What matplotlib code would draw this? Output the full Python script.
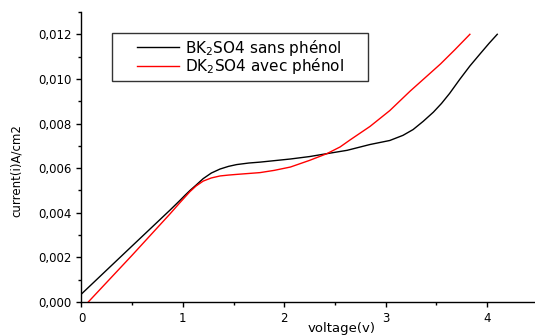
import matplotlib
matplotlib.use("Agg")
import matplotlib.pyplot as plt
from matplotlib.ticker import MultipleLocator, FuncFormatter
from matplotlib.patches import Rectangle

plt.rcParams['font.family'] = ['DejaVu Sans']
plt.rcParams['mathtext.default'] = 'regular'

# Polarisation curves: current density vs applied voltage
voltage_sans = [0.00, 0.48, 0.873, 0.97, 1.02, 1.07, 1.13, 1.20, 1.28, 1.366, 1.45, 1.53,
                1.65, 1.76, 2.06, 2.25, 2.42, 2.62, 2.845, 3.04, 3.17, 3.27, 3.37, 3.47,
                3.55, 3.63, 3.73, 3.83, 3.93, 4.02, 4.10]
current_sans = [0.00036, 0.00243, 0.00412, 0.00455, 0.00478, 0.0050, 0.00524, 0.00553,
                0.00578, 0.00596, 0.00608, 0.00616, 0.00623, 0.00627, 0.00641, 0.00652,
                0.00665, 0.0068, 0.00706, 0.00724, 0.00747, 0.00773, 0.0081, 0.00851,
                0.0089, 0.00935, 0.00998, 0.01058, 0.01112, 0.0116, 0.0120]

voltage_avec = [0.067, 0.50, 0.873, 0.97, 1.02, 1.07, 1.13, 1.20, 1.28, 1.366, 1.45, 1.53,
                1.76, 1.90, 2.06, 2.25, 2.42, 2.55, 2.65, 2.845, 3.04, 3.24, 3.40, 3.54,
                3.68, 3.83]
current_avec = [0.0, 0.0021, 0.00395, 0.00445, 0.0047, 0.00495, 0.0052, 0.00542,
                0.00556, 0.00565, 0.00569, 0.00572, 0.0058, 0.0059, 0.00605, 0.00635,
                0.00665, 0.00695, 0.00727, 0.00787, 0.00858, 0.00945, 0.0101, 0.01067,
                0.0113, 0.0120]

labels = ["BK$_2$SO4 sans phénol", "DK$_2$SO4 avec phénol"]

fig = plt.figure(figsize=(5.35, 3.35), dpi=100)
ax = fig.add_axes([0.1523, 0.0985, 0.853, 0.8657])

l1, = ax.plot(voltage_sans, current_sans, color='black', lw=1.0)
l2, = ax.plot(voltage_avec, current_avec, color='#ff0000', lw=1.0)

ax.set_xlim(0, 4.5)
ax.set_ylim(0, 0.013)

ax.spines['top'].set_visible(False)
ax.spines['right'].set_visible(False)
for s in ('left', 'bottom'):
    ax.spines[s].set_linewidth(1.0)

ax.xaxis.set_major_locator(MultipleLocator(1))
ax.xaxis.set_minor_locator(MultipleLocator(0.5))
ax.yaxis.set_major_locator(MultipleLocator(0.002))
ax.yaxis.set_minor_locator(MultipleLocator(0.001))
ax.yaxis.set_major_formatter(FuncFormatter(lambda v, p: f"{v:.3f}".replace('.', ',')))
ax.xaxis.set_major_formatter(FuncFormatter(lambda v, p: f"{v:.0f}"))

ax.tick_params(which='major', direction='out', length=3.6, width=1.0, labelsize=8.5, pad=3.5)
ax.tick_params(which='minor', direction='out', length=2.2, width=1.0)

ax.set_xlabel("voltage(v)", fontsize=9.5)
ax.set_ylabel("current(i)A/cm2", fontsize=8.5)
ax.xaxis.set_label_coords(0.571, -0.068)
ax.yaxis.set_label_coords(-0.128, 0.453)

# Legend with a wide frame around it
frame = Rectangle((0.0675, 0.762), 0.5605, 0.166, transform=ax.transAxes,
                  facecolor='white', edgecolor='#333333', lw=1.0, zorder=3)
ax.add_patch(frame)
leg = ax.legend([l1, l2], labels, loc='center', bbox_to_anchor=(0.348, 0.845),
                frameon=False, fontsize=11, handlelength=2.75, handletextpad=0.4,
                labelspacing=-0.1, borderpad=0.2)
leg.set_zorder(4)

fig.savefig("out.png", dpi=100)
